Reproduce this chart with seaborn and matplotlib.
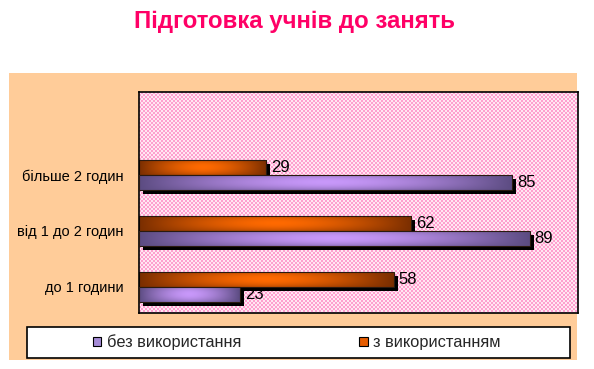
import numpy as np
import pandas as pd
import matplotlib
matplotlib.use("Agg")
import matplotlib.pyplot as plt
import matplotlib.patheffects as pe
from matplotlib.patches import Rectangle, Patch
import seaborn as sns

# Chart data
categories = ["більше 2 годин", "від 1 до 2 годин", "до 1 години"]
without_use = [85, 89, 23]
with_use = [29, 62, 58]
series_names = ["без використання", "з використанням"]
title = "Підготовка учнів до занять"

sns.set_style("white")
plt.rcParams["font.family"] = ["Liberation Sans", "DejaVu Sans"]

df = pd.DataFrame({
    "category": categories * 2,
    "value": with_use + without_use,
    "series": [series_names[1]] * 3 + [series_names[0]] * 3,
})

W, H = 594, 369
fig = plt.figure(figsize=(W / 100, H / 100), dpi=100, facecolor="white")

# peach chart area
fig.patches.append(Rectangle((9 / W, 1 - 360 / H), (577 - 9) / W, (360 - 73) / H,
                             transform=fig.transFigure, facecolor="#FFCC99",
                             edgecolor="none", zorder=-1))

ax = fig.add_axes([139 / W, 1 - 313 / H, (578 - 139) / W, (313 - 92) / H])
ax.set_facecolor("none")

# dotted pink background of the plot area, placed pixel for pixel
ph, pw = 221, 439
ii, jj = np.mgrid[0:ph, 0:pw]
checker = ((ii // 2 + jj // 2) % 2).astype(float)
c1 = np.array(matplotlib.colors.to_rgb("#FF9FCF"))
c2 = np.array(matplotlib.colors.to_rgb("#FFE8F2"))
bg = c1 * checker[..., None] + c2 * (1 - checker[..., None])
fig.figimage(bg, xo=139, yo=H - 313, zorder=-0.5)

palette = {series_names[0]: "#9A7FC8", series_names[1]: "#D95A00"}
sns.barplot(data=df, x="value", y="category", hue="series", order=categories,
            hue_order=[series_names[1], series_names[0]], orient="h",
            width=0.54, palette=palette, saturation=1, legend=False, ax=ax)

grad_colors = {
    series_names[1]: ("#7A2E00", "#FF6A00"),
    series_names[0]: ("#5C4C82", "#C898FA"),
}

u = np.linspace(0, 1, 200)
v = np.linspace(0, 1, 30)
U, V = np.meshgrid(u, v)
shape = (1 - np.abs(2 * U - 1) ** 1.6) * (1 - 0.45 * np.abs(2 * V - 1) ** 2)

n = len(categories)
for k, bar in enumerate(ax.patches):
    name = [series_names[1], series_names[0]][k // n]
    z = 2 if k < n else 3
    dark, light = (np.array(matplotlib.colors.to_rgb(c)) for c in grad_colors[name])
    img = dark + (light - dark) * shape[..., None]
    x0, y0 = bar.get_x(), bar.get_y()
    bw, bh = bar.get_width(), bar.get_height()
    bar.set_zorder(z)
    bar.set_edgecolor("none")
    bar.set_path_effects([pe.SimplePatchShadow(offset=(3, -3), shadow_rgbFace="black", alpha=1),
                          pe.Normal()])
    im = ax.imshow(img, extent=(x0, x0 + bw, y0 + bh, y0), aspect="auto",
                   interpolation="bilinear", zorder=z + 0.1)
    im.set_clip_path(bar)
    ax.add_patch(Rectangle((x0, y0), bw, bh, fill=False, edgecolor="#2A1A10",
                           linewidth=0.8, zorder=z + 0.2))
    ax.annotate(f"{bw:.0f}", (x0 + bw, y0 + bh / 2), xytext=(3.5, 0),
                textcoords="offset points", ha="left", va="center",
                fontsize=12, color="black", zorder=1.5)

ax.set_xlim(0, 100)
ax.set_ylim(2 + 26 / 56, -83 / 56)
ax.set_xlabel("")
ax.set_ylabel("")
ax.set_xticks([])
ax.tick_params(axis="y", length=0, pad=11, labelsize=10.5, colors="black")
for s in ax.spines.values():
    s.set_visible(True)
    s.set_color("black")
    s.set_linewidth(1.2)

fig.text(294 / W, 1 - 28 / H, title, ha="center", va="baseline",
         fontsize=17.3, fontweight="bold", color="#FF0066")

# legend box
fig.patches.append(Rectangle((27 / W, 1 - 358 / H), (570 - 27) / W, 31 / H,
                             transform=fig.transFigure, facecolor="white",
                             edgecolor="black", linewidth=1.2, zorder=1))
handles = [Patch(facecolor="#A58BD6", edgecolor="black", linewidth=0.8),
           Patch(facecolor="#E65C00", edgecolor="black", linewidth=0.8)]
fig.legend(handles, series_names, loc="center", bbox_to_anchor=(297 / W, 1 - 342.5 / H),
           ncol=2, frameon=False, fontsize=11.8, handlelength=0.5, handleheight=0.5,
           handletextpad=0.35, columnspacing=7.2)

fig.savefig("out.png", dpi=100, facecolor="white")
